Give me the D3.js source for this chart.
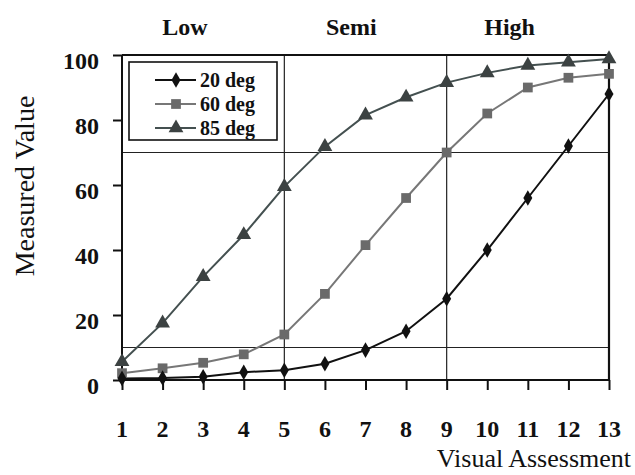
<!DOCTYPE html>
<html><head><meta charset="utf-8">
<script src="https://cdn.jsdelivr.net/npm/d3@7"></script>
<style>body{margin:0;background:#fff}svg{display:block}svg text{font-family:"Liberation Serif","Times New Roman",Times,"DejaVu Serif",serif}</style>
</head><body>
<svg id="c" width="635" height="475"></svg>
<script>
const categories = [1,2,3,4,5,6,7,8,9,10,11,12,13];
const deg20 = [0.5,0.6,1,2.4,3,5,9.2,15,25,40,56,72,88];
const deg60 = [2.1,3.6,5.3,7.9,14,26.5,41.5,56,70,82,90,93,94.2];
const deg85 = [5.6,17.5,31.8,44.7,59.5,71.8,81.5,87,91.5,94.5,96.8,97.8,98.8];
const seriesNames = ["20 deg","60 deg","85 deg"];
const yTicks = [0,20,40,60,80,100];
const zoneLabels = ["Low","Semi","High"];
const zoneLabelX = [2.55,6.65,10.55];
const refX = [5,9];
const refY = [10,70];

const svg = d3.select("#c");
const L=122,R=609,T=55,B=380;
const x = d3.scaleLinear().domain([1,13]).range([L,R]);
const y = d3.scaleLinear().domain([0,100]).range([B,T]);

// reference lines
refX.forEach(v=>svg.append("line").attr("x1",x(v)).attr("x2",x(v)).attr("y1",T).attr("y2",B).attr("stroke","#222").attr("stroke-width",1.2));
refY.forEach(v=>svg.append("line").attr("x1",L).attr("x2",R).attr("y1",y(v)).attr("y2",y(v)).attr("stroke","#222").attr("stroke-width",1.2));

// frame
svg.append("line").attr("x1",L).attr("x2",R).attr("y1",T).attr("y2",T).attr("stroke","#111").attr("stroke-width",2);
svg.append("line").attr("x1",R).attr("x2",R).attr("y1",T).attr("y2",B).attr("stroke","#111").attr("stroke-width",2.2);

// axes
const yAxis = d3.axisLeft(y).tickValues(yTicks).tickSize(9).tickFormat("");
const gy = svg.append("g").attr("transform",`translate(${L},0)`).call(yAxis);
gy.selectAll("path,line").attr("stroke","#111").attr("stroke-width",2);
const xAxis = d3.axisBottom(x).tickValues(categories).tickSize(10).tickFormat("");
const gx = svg.append("g").attr("transform",`translate(0,${B})`).call(xAxis);
gx.selectAll("path,line").attr("stroke","#111").attr("stroke-width",2);
gx.select("path").attr("d",`M${L},0H${R}`);
gy.select("path").attr("d",`M0,${T}V${B}`);

svg.selectAll("text.yt").data(yTicks).join("text").attr("class","yt")
  .attr("x",99).attr("y",d=>y(d)+14).attr("text-anchor","end")
  .attr("font-weight","bold").attr("font-size",24).attr("fill","#111").text(d=>d);
svg.selectAll("text.xt").data(categories).join("text").attr("class","xt")
  .attr("x",d=>x(d)).attr("y",437).attr("text-anchor","middle")
  .attr("font-weight","bold").attr("font-size",24).attr("fill","#111").text(d=>d);

svg.selectAll("text.zl").data(zoneLabels).join("text").attr("class","zl")
  .attr("x",(d,i)=>x(zoneLabelX[i])).attr("y",35).attr("text-anchor","middle")
  .attr("font-weight","bold").attr("font-size",24).attr("fill","#111").text(d=>d);

svg.append("text").attr("transform","translate(34,186) rotate(-90)").attr("text-anchor","middle")
  .attr("font-size",28).attr("fill","#111").text("Measured Value");
svg.append("text").attr("x",631).attr("y",467).attr("text-anchor","end")
  .attr("font-size",26).attr("fill","#111").text("Visual Assessment");

// series
const series = [
  {name:seriesNames[0], vals:deg20, color:"#111", lc:"#111", shape:d3.symbolDiamond, size:70},
  {name:seriesNames[1], vals:deg60, color:"#6a6a6a", lc:"#777", shape:d3.symbolSquare, size:95},
  {name:seriesNames[2], vals:deg85, color:"#3c4242", lc:"#445050", shape:d3.symbolTriangle, size:95}
];
const line = d3.line().x((d,i)=>x(categories[i])).y(d=>y(d));
series.slice().reverse().forEach(s=>{
  svg.append("path").attr("d",line(s.vals)).attr("fill","none").attr("stroke",s.lc).attr("stroke-width",2);
});
series.slice().reverse().forEach(s=>{
  svg.selectAll(null).data(s.vals).join("path")
    .attr("transform",(d,i)=>`translate(${x(categories[i])},${y(d)})`)
    .attr("d",d3.symbol().type(s.shape).size(s.size)).attr("fill",s.color);
});

// legend
const lg = svg.append("g");
lg.append("rect").attr("x",129).attr("y",62).attr("width",148).attr("height",78).attr("fill","#fff").attr("stroke","#111").attr("stroke-width",1.6);
const rowY=[80,104,128];
series.forEach((s,i)=>{
  lg.append("line").attr("x1",155).attr("x2",196).attr("y1",rowY[i]).attr("y2",rowY[i]).attr("stroke",s.lc).attr("stroke-width",2);
  lg.append("path").attr("transform",`translate(176,${rowY[i]})`).attr("d",d3.symbol().type(s.shape).size(s.size)).attr("fill",s.color);
  lg.append("text").attr("x",200).attr("y",rowY[i]+7).attr("font-weight","bold").attr("font-size",20).attr("fill","#111").text(s.name);
});
</script>
</body></html>
